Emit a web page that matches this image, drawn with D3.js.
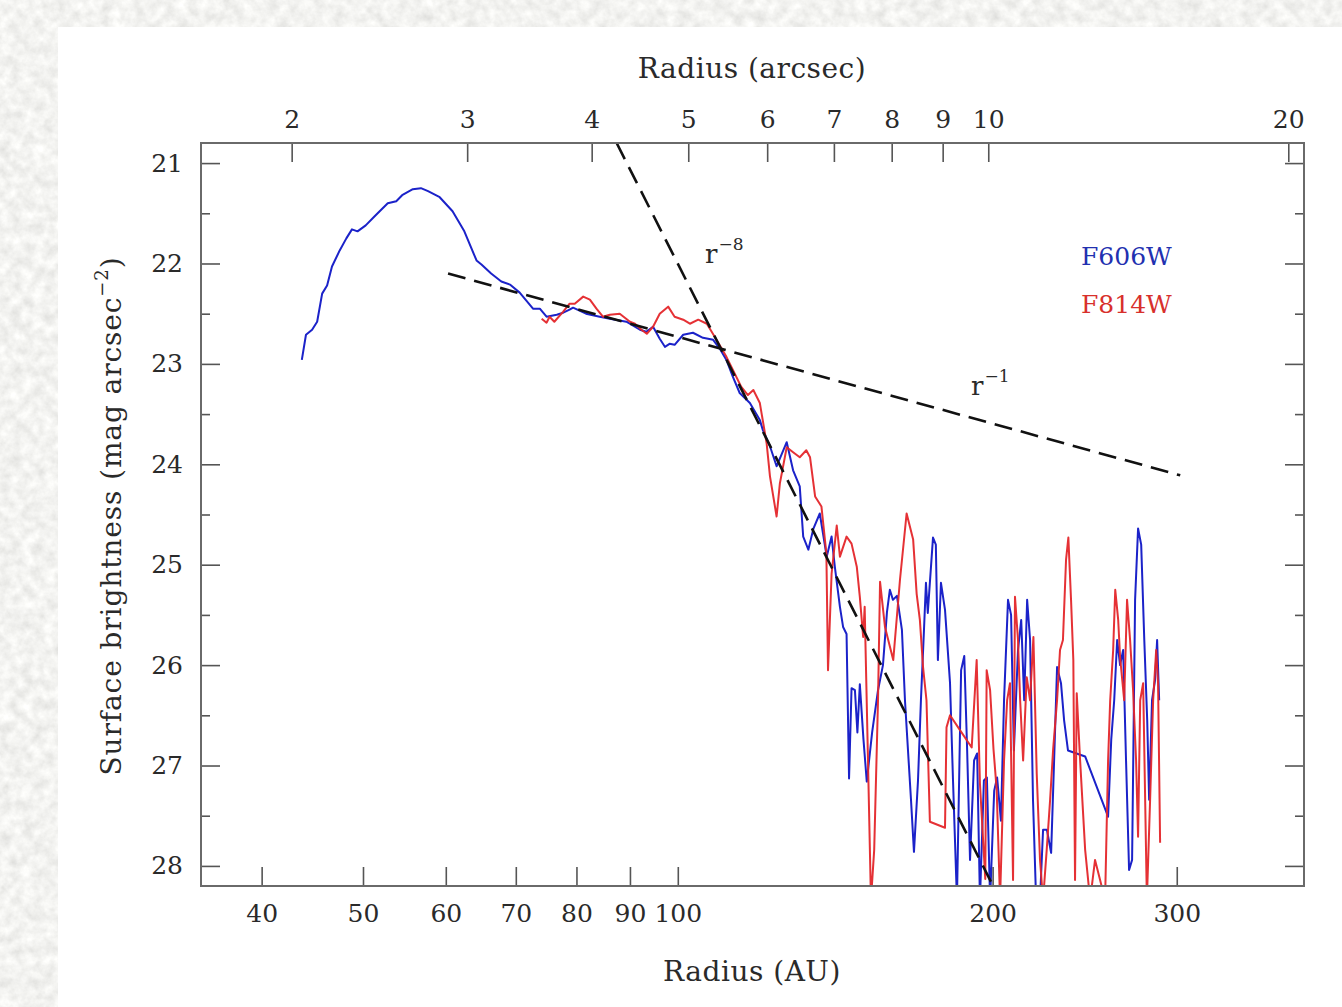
<!DOCTYPE html>
<html>
<head>
<meta charset="utf-8">
<script src="https://cdn.jsdelivr.net/npm/d3@7"></script>
<style>
  body { margin: 0; background: #fff; }
  text { font-family: "DejaVu Serif", serif; fill: #2a2a2a; }
</style>
</head>
<body>
<svg id="chart" width="1342" height="1007"></svg>
<script>
// surface brightness profiles, [radius in AU, mag arcsec^-2]
var f606w = [[43.7,22.96],[44.1,22.71],[44.7,22.66],[45.2,22.58],[45.7,22.30],[46.2,22.22],[46.7,22.03],[47.5,21.87],[48.2,21.75],[48.8,21.66],[49.4,21.68],[50.3,21.62],[51.3,21.53],[52.8,21.40],[53.8,21.38],[54.5,21.32],[55.8,21.26],[56.8,21.25],[57.7,21.28],[59.2,21.34],[60.9,21.48],[62.5,21.68],[64.2,21.97],[64.9,22.01],[66.3,22.10],[67.8,22.18],[69.1,22.21],[70.6,22.29],[72.7,22.45],[73.8,22.45],[74.9,22.53],[76.6,22.51],[77.7,22.49],[78.8,22.46],[79.4,22.44],[81.7,22.50],[84.2,22.53],[86.1,22.55],[89.3,22.58],[92.0,22.66],[93.3,22.68],[94.7,22.63],[96.1,22.75],[97.2,22.83],[98.2,22.80],[99.3,22.81],[101.2,22.71],[103.4,22.69],[105.7,22.74],[108.1,22.76],[109.7,22.85],[111.3,22.96],[112.9,23.13],[114.6,23.29],[117.2,23.39],[119.8,23.56],[120.6,23.66],[122.5,23.82],[124.3,24.02],[127.1,23.78],[128.9,24.06],[130.8,24.22],[131.8,24.72],[133.3,24.85],[134.8,24.64],[136.7,24.49],[138.8,24.92],[140.3,24.72],[141.3,25.02],[142.9,25.42],[143.9,25.62],[145.0,25.69],[145.8,27.13],[146.6,26.23],[147.7,26.25],[148.5,26.67],[149.3,26.19],[150.5,26.74],[151.6,27.16],[153.4,26.67],[155.4,26.25],[157.1,26.00],[158.5,25.47],[159.5,25.25],[160.6,25.35],[162.0,25.31],[163.8,25.65],[164.9,26.35],[167.1,27.34],[168.2,27.86],[169.7,27.15],[170.8,26.35],[171.9,25.68],[172.7,25.18],[173.4,25.48],[175.4,24.73],[176.5,24.80],[177.3,25.95],[178.5,25.18],[180.1,25.45],[182.1,26.18],[183.3,27.15],[184.9,28.34],[186.6,26.05],[187.9,25.91],[189.1,26.85],[190.3,27.94],[192.0,26.95],[193.3,26.88],[194.5,28.34],[196.2,27.15],[197.5,27.12],[198.9,28.34],[200.7,27.25],[202.0,27.12],[203.7,27.55],[205.1,26.35],[206.9,25.35],[208.3,25.50],[209.6,26.85],[211.5,25.85],[213.0,25.55],[214.4,26.35],[215.8,25.35],[217.2,25.75],[218.6,27.34],[220.1,28.34],[222.0,28.34],[223.5,27.64],[225.4,27.64],[227.5,27.87],[229.0,26.95],[230.5,26.02],[232.5,26.18],[234.1,26.55],[236.1,26.85],[245.2,26.91],[257.9,27.51],[259.7,26.74],[261.4,26.35],[263.1,25.75],[264.8,26.00],[266.6,25.85],[268.3,26.95],[270.1,28.04],[271.9,27.94],[273.7,25.35],[275.5,24.64],[277.4,24.80],[279.3,25.75],[281.1,26.55],[282.3,27.34],[284.1,26.35],[286.0,26.15],[287.3,25.75],[288.6,26.35]];

var f814w = [[74.1,22.55],[74.9,22.59],[75.4,22.53],[76.2,22.58],[77.7,22.48],[78.8,22.40],[79.7,22.40],[81.2,22.33],[82.4,22.36],[83.6,22.45],[84.8,22.53],[86.1,22.51],[88.0,22.50],[90.0,22.58],[91.0,22.60],[92.3,22.66],[93.4,22.70],[94.7,22.63],[96.1,22.50],[97.9,22.43],[99.3,22.53],[101.2,22.56],[102.7,22.60],[104.6,22.56],[106.6,22.60],[108.9,22.76],[111.3,22.93],[112.9,23.06],[115.0,23.23],[116.7,23.31],[118.1,23.26],[119.8,23.39],[121.6,23.79],[122.5,24.12],[124.3,24.52],[125.2,24.19],[127.1,23.83],[128.9,23.88],[130.8,23.93],[132.7,23.86],[133.8,23.93],[135.3,24.32],[137.2,24.42],[138.7,24.89],[139.2,26.05],[140.3,25.09],[141.9,24.61],[142.9,24.92],[145.0,24.72],[146.6,24.79],[148.3,25.02],[149.3,25.32],[150.4,25.72],[150.9,25.42],[152.0,26.94],[153.0,28.34],[154.1,27.84],[155.4,26.35],[156.1,25.17],[157.8,25.62],[160.7,25.95],[163.1,25.15],[165.5,24.49],[167.9,24.75],[169.2,25.29],[170.4,25.55],[171.6,26.02],[172.9,26.35],[174.2,27.56],[180.1,27.62],[180.7,26.62],[182.1,26.50],[186.2,26.65],[191.0,26.82],[193.1,25.95],[194.5,27.18],[196.8,28.13],[197.4,26.05],[198.9,26.25],[200.4,26.84],[201.8,27.24],[203.3,28.34],[205.1,26.95],[206.5,26.35],[207.8,26.18],[209.2,28.14],[210.1,25.32],[211.5,25.75],[212.5,26.35],[213.9,26.95],[215.6,26.12],[217.2,26.35],[218.8,25.72],[220.4,27.08],[222.0,27.94],[223.5,28.34],[225.3,27.84],[227.0,27.34],[228.5,26.84],[230.5,26.35],[232.0,25.85],[233.5,25.75],[235.1,24.95],[236.3,24.73],[237.7,25.35],[238.9,25.95],[239.8,28.14],[240.7,26.28],[242.5,26.95],[245.2,27.84],[247.9,28.34],[250.6,27.94],[253.4,28.14],[256.2,28.34],[257.9,26.95],[259.1,26.35],[260.8,25.85],[262.0,25.25],[263.7,25.55],[264.8,25.92],[267.2,26.35],[268.9,25.35],[270.7,25.75],[272.5,26.25],[274.3,26.95],[275.5,27.71],[276.8,26.35],[278.6,26.18],[280.9,28.34],[282.9,27.34],[284.8,26.35],[286.7,25.85],[287.9,26.18],[289.2,27.77]];

// power law guide lines (end points)
var lineR1 = [[60.3,22.10],[302.3,24.11]];
var lineR8 = [[87.4,20.80],[200.0,28.19]];

var auTicks = [40,50,60,70,80,90,100,200,300];
var arcsecTicks = [2,3,4,5,6,7,8,9,10,20];
var magTicks = [21,22,23,24,25,26,27,28];
var magMinor = [21.5,22.5,23.5,24.5,25.5,26.5,27.5];

var svg = d3.select("#chart");

// textured paper background + white page
var defs = svg.append("defs");
var filt = defs.append("filter").attr("id","paper").attr("x",0).attr("y",0).attr("width",1).attr("height",1);
filt.append("feTurbulence").attr("type","fractalNoise").attr("baseFrequency","0.09").attr("numOctaves",4).attr("seed",7);
filt.append("feColorMatrix").attr("type","matrix")
  .attr("values","0.35 0 0 0 0.72  0.35 0 0 0 0.72  0.35 0 0 0 0.70  0 0 0 0 1");
svg.append("rect").attr("width",1342).attr("height",1007).attr("filter","url(#paper)");
svg.append("rect").attr("x",58).attr("y",27).attr("width",1284).attr("height",980).attr("fill","#fff");

var padL = 201, padR = 1304, padT = 143, padB = 886;   // plot frame in px

var x = d3.scaleLog().domain([35,397]).range([padL,padR]);
var xTop = d3.scaleLog().domain([1.622,20.74]).range([padL,padR]);
var y = d3.scaleLinear().domain([20.8,28.2]).range([padT,padB]);

defs.append("clipPath").attr("id","frame").append("rect")
  .attr("x",padL).attr("y",padT).attr("width",padR-padL).attr("height",padB-padT);

var line = d3.line().x(function(d){ return x(d[0]); }).y(function(d){ return y(d[1]); });

var plot = svg.append("g").attr("clip-path","url(#frame)");

plot.append("path").datum(f606w).attr("d",line)
  .attr("fill","none").attr("stroke","#1b22c9").attr("stroke-width",2).attr("stroke-linejoin","round");
plot.append("path").datum(f814w).attr("d",line)
  .attr("fill","none").attr("stroke","#e4262a").attr("stroke-width",2).attr("stroke-linejoin","round")
  .attr("stroke-opacity",0.95);

[lineR1, lineR8].forEach(function(l){
  plot.append("path").datum(l).attr("d",line)
    .attr("fill","none").attr("stroke","#111").attr("stroke-width",2.6)
    .attr("stroke-dasharray","18,9");
});

// axes
function styleAxis(g){
  g.select(".domain").remove();
  g.selectAll(".tick line").attr("stroke","#555").attr("stroke-width",1.6);
  g.selectAll(".tick text").attr("font-size",25).attr("font-family","DejaVu Serif").attr("fill","#2a2a2a");
}

svg.append("g").attr("transform","translate(0,"+padB+")")
  .call(d3.axisBottom(x).tickValues(auTicks).tickFormat(d3.format("d")).tickSize(-19).tickPadding(18))
  .call(styleAxis);

svg.append("g").attr("transform","translate(0,"+padT+")")
  .call(d3.axisTop(xTop).tickValues(arcsecTicks).tickFormat(d3.format("d")).tickSize(-19).tickPadding(15))
  .call(styleAxis);

svg.append("g").attr("transform","translate("+padL+",0)")
  .call(d3.axisLeft(y).tickValues(magTicks).tickFormat(d3.format("d")).tickSize(-19).tickPadding(18))
  .call(styleAxis);
svg.append("g").attr("transform","translate("+padL+",0)")
  .call(d3.axisLeft(y).tickValues(magMinor).tickFormat("").tickSize(-9))
  .call(styleAxis);

svg.append("g").attr("transform","translate("+padR+",0)")
  .call(d3.axisRight(y).tickValues(magTicks).tickFormat("").tickSize(-19))
  .call(styleAxis);
svg.append("g").attr("transform","translate("+padR+",0)")
  .call(d3.axisRight(y).tickValues(magMinor).tickFormat("").tickSize(-9))
  .call(styleAxis);

// frame
svg.append("rect").attr("x",padL).attr("y",padT).attr("width",padR-padL).attr("height",padB-padT)
  .attr("fill","none").attr("stroke","#6a6a6a").attr("stroke-width",2);

// axis titles
svg.append("text").attr("x",752).attr("y",78).attr("text-anchor","middle")
  .attr("font-size",28).attr("letter-spacing",0.5).text("Radius (arcsec)");
svg.append("text").attr("x",752).attr("y",981).attr("text-anchor","middle")
  .attr("font-size",28).attr("letter-spacing",0.5).text("Radius (AU)");

var yl = svg.append("text").attr("transform","translate(121,516) rotate(-90)")
  .attr("text-anchor","middle").attr("font-size",28).attr("letter-spacing",0.9);
yl.append("tspan").text("Surface brightness (mag arcsec");
yl.append("tspan").attr("font-size",18).attr("dy",-13).text("\u22122");
yl.append("tspan").attr("dy",13).text(")");

// power law labels
function powLabel(px, py, exp){
  var t = svg.append("text").attr("x",px).attr("y",py).attr("font-size",26);
  t.append("tspan").text("r");
  t.append("tspan").attr("font-size",17).attr("dy",-13).attr("dx",1).text("\u2212"+exp);
}
powLabel(705, 263, 8);
powLabel(971, 395, 1);

// legend
svg.append("text").attr("x",1081).attr("y",265).attr("font-size",25).style("fill","#2230b0").text("F606W");
svg.append("text").attr("x",1081).attr("y",313).attr("font-size",25).style("fill","#d8302c").text("F814W");
</script>
</body>
</html>
